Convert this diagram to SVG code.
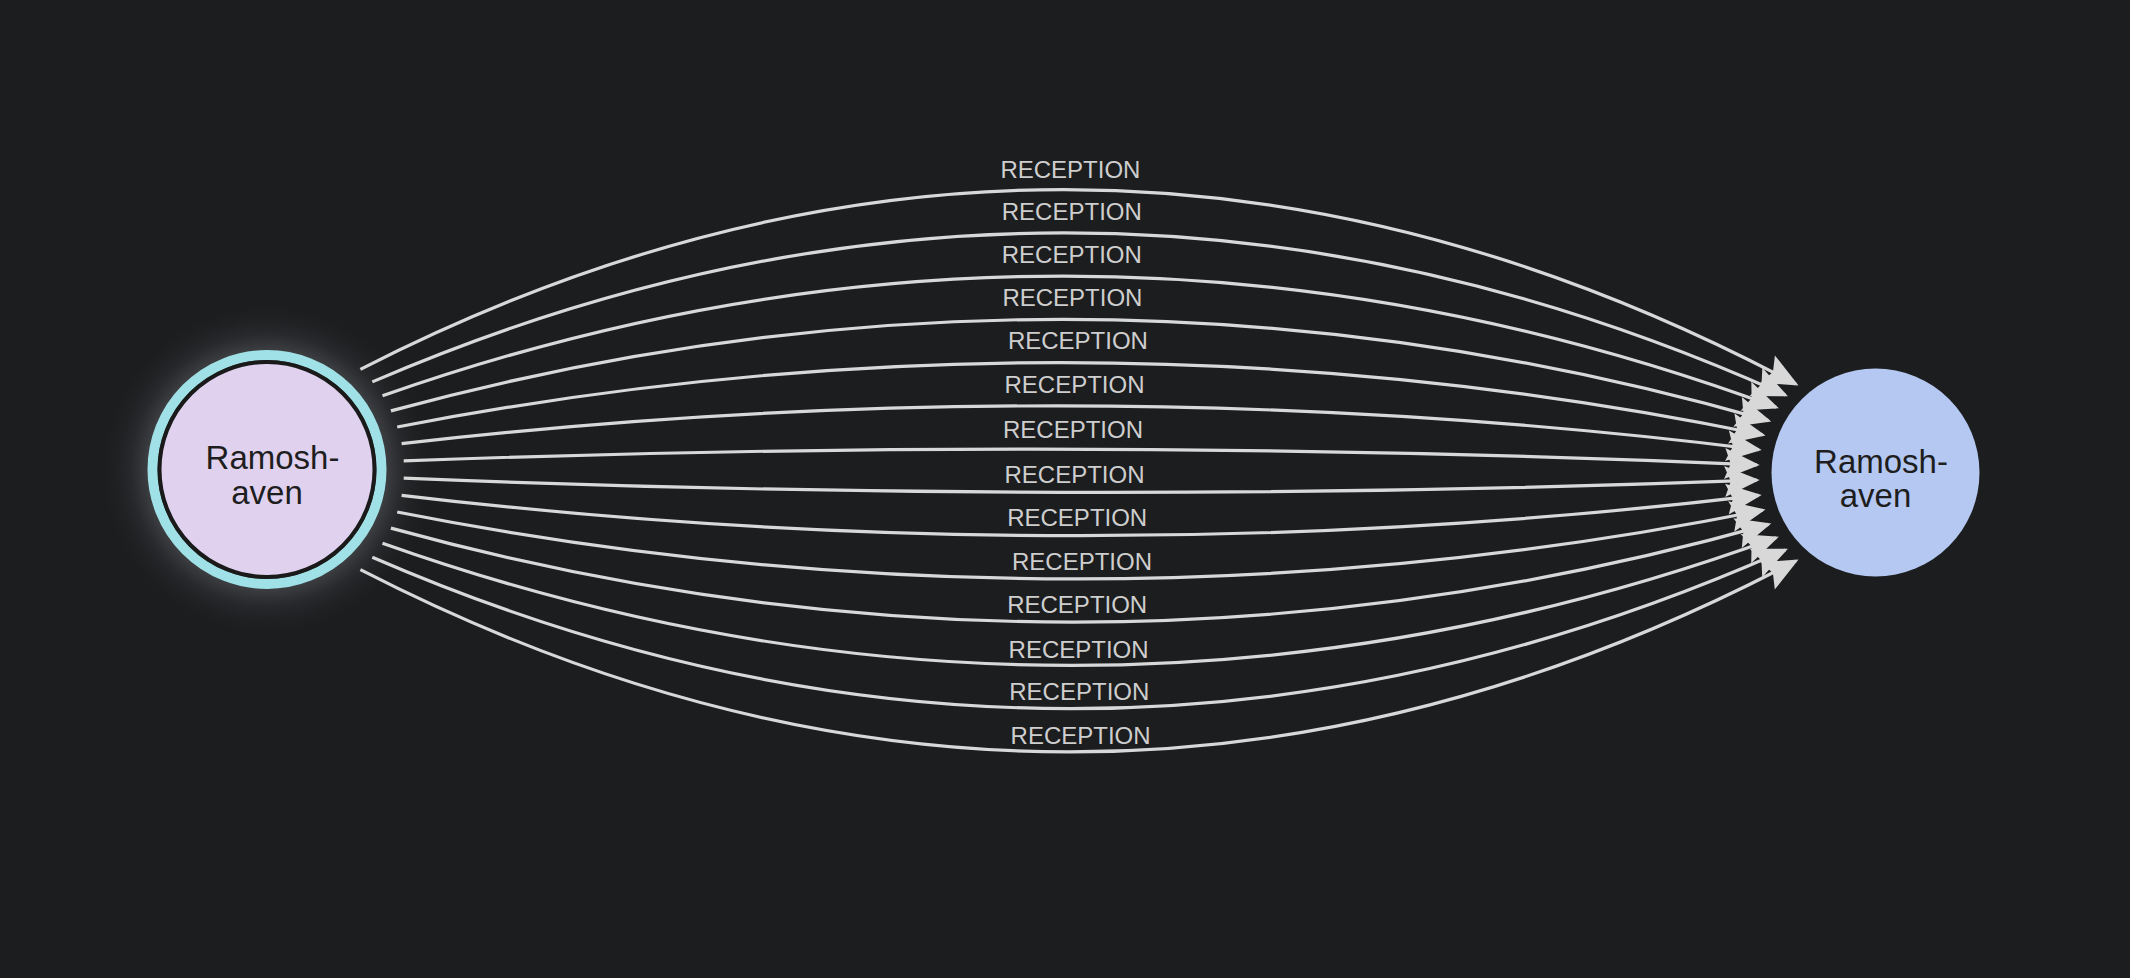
<svg xmlns="http://www.w3.org/2000/svg" width="2130" height="978" viewBox="0 0 2130 978">
<defs>
<style>
.edge{fill:none;stroke:#d8d8d8;stroke-width:3.2;marker-end:url(#arrow)}
.lbl{font-family:"Liberation Sans",Arial,sans-serif;font-size:24px;fill:#cecece;text-anchor:middle}
.ntxt{font-family:"Liberation Sans",Arial,sans-serif;font-size:33px;fill:#1e1e1e;text-anchor:middle}
</style>
<marker id="arrow" viewBox="-36 -17 42 34" refX="0" refY="0" markerWidth="42" markerHeight="34" markerUnits="userSpaceOnUse" orient="auto">
<path d="M3,0 L-32,-15.5 L-26,0 L-32,15.5 Z" fill="#d8d8d8"/>
</marker>
<radialGradient id="glow" cx="267" cy="469.5" r="170" gradientUnits="userSpaceOnUse">
<stop offset="0.68" stop-color="#c8cad4" stop-opacity="0.22"/>
<stop offset="0.8" stop-color="#b0b2bc" stop-opacity="0.08"/>
<stop offset="1" stop-color="#1c1d1f" stop-opacity="0"/>
</radialGradient>
</defs>
<rect width="2130" height="978" fill="#1c1d1f"/>
<g id="n1">
<circle cx="267" cy="469.5" r="170" fill="url(#glow)"/>
<circle cx="267" cy="469.5" r="114.5" fill="none" stroke="#9fe1e6" stroke-width="10"/>
<circle cx="267" cy="469.5" r="107.5" fill="#e0d2ef" stroke="#1a1a1a" stroke-width="4"/>
<text class="ntxt" x="272.5" y="469">Ramosh-</text>
<text class="ntxt" x="267" y="503.5">aven</text>
</g>
<g id="n2">
<circle cx="1875.5" cy="472.5" r="104" fill="#b5c8f2"/>
<text class="ntxt" x="1881" y="473">Ramosh-</text>
<text class="ntxt" x="1875.5" y="507">aven</text>
</g>
<g id="edges">
<path class="edge" d="M360.4,369.3 Q1078.2,2.7 1795.9,384.1"/>
<path class="edge" d="M372.3,381.9 Q1078.75,77.55 1785.2,395.0"/>
<path class="edge" d="M382.5,395.8 Q1079.25,150.85 1776.0,407.3"/>
<path class="edge" d="M390.9,410.9 Q1079.65,223.05 1768.4,420.6"/>
<path class="edge" d="M397.2,427.0 Q1079.9,294.5 1762.6,434.8"/>
<path class="edge" d="M401.6,443.7 Q1080.15,365.15 1758.7,449.6"/>
<path class="edge" d="M403.7,460.9 Q1080.2,435.55 1756.7,464.8"/>
<path class="edge" d="M403.7,478.1 Q1080.2,505.65 1756.7,480.2"/>
<path class="edge" d="M401.6,495.3 Q1080.15,576.05 1758.7,495.4"/>
<path class="edge" d="M397.2,512.0 Q1079.9,646.7 1762.6,510.2"/>
<path class="edge" d="M390.9,528.1 Q1079.65,717.95 1768.4,524.4"/>
<path class="edge" d="M382.5,543.2 Q1079.25,790.35 1776.0,537.7"/>
<path class="edge" d="M372.3,557.2 Q1078.75,863.6 1785.2,550.0"/>
<path class="edge" d="M360.4,569.7 Q1078.2,938.5 1795.9,560.9"/>
<text class="lbl" x="1070.4" y="177.5">RECEPTION</text>
<text class="lbl" x="1071.8" y="220">RECEPTION</text>
<text class="lbl" x="1071.8" y="263">RECEPTION</text>
<text class="lbl" x="1072.4" y="306">RECEPTION</text>
<text class="lbl" x="1077.9" y="349">RECEPTION</text>
<text class="lbl" x="1074.5" y="393">RECEPTION</text>
<text class="lbl" x="1073" y="438">RECEPTION</text>
<text class="lbl" x="1074.5" y="482.6">RECEPTION</text>
<text class="lbl" x="1077.2" y="526.1">RECEPTION</text>
<text class="lbl" x="1082" y="569.6">RECEPTION</text>
<text class="lbl" x="1077.2" y="613.1">RECEPTION</text>
<text class="lbl" x="1078.6" y="657.9">RECEPTION</text>
<text class="lbl" x="1079.3" y="700">RECEPTION</text>
<text class="lbl" x="1080.6" y="743.5">RECEPTION</text>
</g>
</svg>
